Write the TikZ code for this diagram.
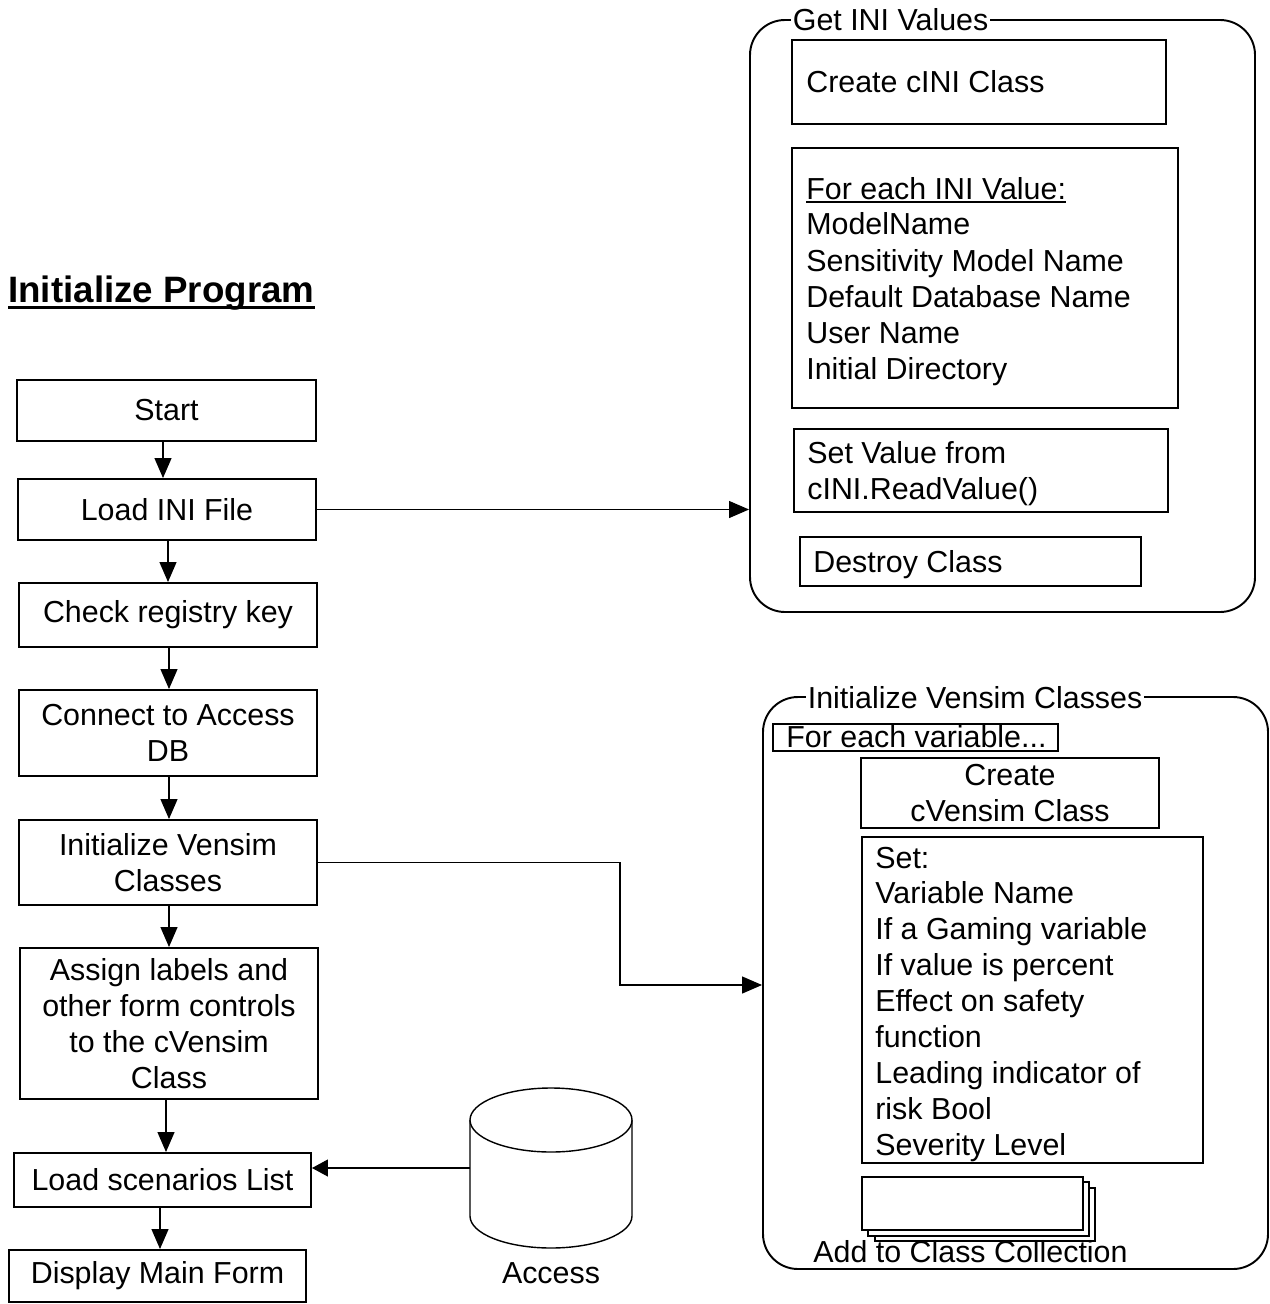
\documentclass[tikz,border=0pt]{standalone}
\usepackage{fontspec}
\setmainfont{Liberation Sans}
\usetikzlibrary{arrows.meta,fit}
\begin{document}
\begin{tikzpicture}[x=0.02cm,y=-0.02cm,
  txt/.style={font=\fontsize{17.3}{20.5}\selectfont, inner sep=0},
  ctxt/.style={txt, align=center},
  box/.style={draw, line width=1.1pt, inner sep=0},
  thinbox/.style={draw, line width=0.7pt, fill=white, inner sep=0},
  frame/.style={draw, line width=1.1pt, rounded corners=0.7cm, inner sep=0},
  ftitle/.style={txt, fill=white, inner xsep=0.03cm, inner ysep=0.02cm, anchor=base west},
  flow/.style={line width=0.7pt, -{Triangle[length=0.4cm,width=0.34cm]}},
]
\useasboundingbox (0,0) rectangle (1269,1304);

% ---------- title ----------
\node[anchor=base west, inner sep=0, font=\bfseries\fontsize{20.9}{25}\selectfont] (title) at (8,302) {Initialize Program};
\draw[line width=1.6pt] ([yshift=-0.11cm]title.base west) -- ([yshift=-0.11cm]title.base east);

% ---------- main flow ----------
\node[box, fit={(17,380) (316,441)}] (start) {};
\node[ctxt] at (start.center) {Start};
\node[box, fit={(18,479) (316,540)}] (loadini) {};
\node[ctxt] at (loadini.center) {Load INI File};
\node[box, fit={(19,583) (317,647)}] (checkreg) {};
\node[ctxt] at (checkreg.center) {Check registry key};
\node[box, fit={(19,690) (317,776)}] (connect) {};
\node[ctxt] at (connect.center) {Connect to Access\\DB};
\node[box, fit={(19,820) (317,905)}] (initv) {};
\node[ctxt] at (initv.center) {Initialize Vensim\\Classes};
\node[box, fit={(20,948) (318,1099)}] (assign) {};
\node[ctxt] at (assign.center) {Assign labels and\\other form controls\\to the cVensim\\Class};
\node[box, fit={(14,1153) (311,1207)}] (loadscen) {};
\node[ctxt] at (loadscen.center) {Load scenarios List};
\node[box, fit={(9,1250) (306,1302)}] (display) {};
\node[ctxt] at (display.center) {Display Main Form};

\draw[flow] (start.south -| 163,0) -- (163,0 |- loadini.north);
\draw[flow] (loadini.south -| 168,0) -- (168,0 |- checkreg.north);
\draw[flow] (checkreg.south -| 169,0) -- (169,0 |- connect.north);
\draw[flow] (connect.south -| 169,0) -- (169,0 |- initv.north);
\draw[flow] (initv.south -| 169,0) -- (169,0 |- assign.north);
\draw[flow] (assign.south -| 166,0) -- (166,0 |- loadscen.north);
\draw[flow] (loadscen.south -| 160,0) -- (160,0 |- display.north);

% ---------- Access database ----------
\draw[line width=0.8pt, fill=white] (470,1120) -- (470,1216) arc[start angle=180, end angle=0, x radius=81, y radius=32] -- (632,1120);
\draw[line width=0.8pt, fill=white] (551,1120) ellipse[x radius=81, y radius=32];
\coordinate (accessdb) at (470,1168);
\node[txt, anchor=base] (accesslbl) at (551,1283) {Access};
\draw[flow, -{Triangle[length=0.32cm,width=0.34cm]}] (accessdb) -- (accessdb -| loadscen.east);

% ---------- Get INI Values ----------
\node[frame, fit={(750,20) (1255,612)}] (getini) {};
\node[ftitle] (getinititle) at (791,31) {Get INI Values};
\node[box, fit={(792,40) (1166,124)}] (createini) {};
\node[txt, anchor=base west] at (806,93) {Create cINI Class};
\node[box, fit={(792,148) (1178,408)}] (eachini) {};
\node[txt, anchor=base west] (eachhdr) at (806,199) {For each INI Value:};
\draw[line width=0.9pt] ([yshift=-0.06cm]eachhdr.base west) -- ([yshift=-0.06cm]eachhdr.base east);
\node[txt, anchor=base west] at (806,235) {ModelName};
\node[txt, anchor=base west] at (806,271) {Sensitivity Model Name};
\node[txt, anchor=base west] at (806,307) {Default Database Name};
\node[txt, anchor=base west] at (806,343) {User Name};
\node[txt, anchor=base west] at (806,379) {Initial Directory};
\node[box, fit={(794,429) (1168,512)}] (setvalue) {};
\node[txt, anchor=base west] at (807,463) {Set Value from};
\node[txt, anchor=base west] at (807,499) {cINI.ReadValue()};
\node[box, fit={(800,537) (1141,586)}] (destroy) {};
\node[txt, anchor=base west] at (813,572) {Destroy Class};

\draw[flow] (loadini.east) -- (loadini.east -| getini.west);

% ---------- Initialize Vensim Classes ----------
\node[frame, fit={(763,697) (1268,1269)}] (vensim) {};
\node[ftitle] (vensimtitle) at (806,708) {Initialize Vensim Classes};
\node[box, fit={(773,724) (1058,751)}] (eachvar) {};
\node[txt, anchor=base west] at (786,747) {For each variable...};
\node[box, fit={(861,758) (1159,828)}] (createv) {};
\node[ctxt] at (createv.center) {Create\\cVensim Class};
\node[box, fit={(862,837) (1203,1163)}] (setv) {};
\node[txt, anchor=base west] at (875,868) {Set:};
\node[txt, anchor=base west] at (875,903) {Variable Name};
\node[txt, anchor=base west] at (875,939) {If a Gaming variable};
\node[txt, anchor=base west] at (875,975) {If value is percent};
\node[txt, anchor=base west] at (875,1011) {Effect on safety};
\node[txt, anchor=base west] at (875,1047) {function};
\node[txt, anchor=base west] at (875,1083) {Leading indicator of};
\node[txt, anchor=base west] at (875,1119) {risk Bool};
\node[txt, anchor=base west] at (875,1155) {Severity Level};
% stacked documents
\node[thinbox, fit={(875,1188) (1095,1241)}] (coll3) {};
\node[thinbox, fit={(868,1182) (1089,1236)}] (coll2) {};
\node[thinbox, fit={(862,1177) (1083,1230)}] (coll1) {};
\node[txt, anchor=base west] at (813,1262) {Add to Class Collection};

\coordinate (bend) at (620,985);
\draw[flow] (initv.east) -| (bend) -- (bend -| vensim.west);
\end{tikzpicture}
\end{document}
